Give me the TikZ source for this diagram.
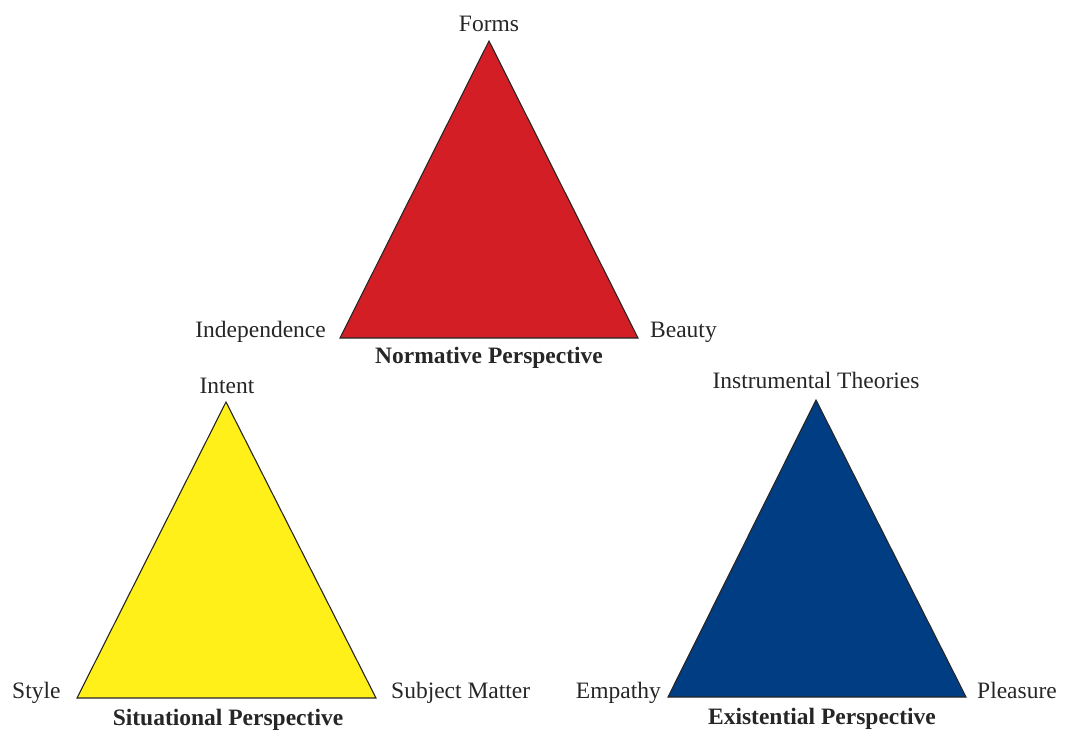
\documentclass[tikz,border=0pt]{standalone}
\usepackage{fontspec}
\setmainfont{Liberation Serif}
\definecolor{trired}{RGB}{212,30,38}
\definecolor{triyellow}{RGB}{255,240,26}
\definecolor{triblue}{RGB}{0,61,130}
\begin{document}
\begin{tikzpicture}[x=1pt,y=-1pt,
  lbl/.style={inner sep=0pt,font=\fontsize{23.5}{26}\selectfont,text=black!85},
  ttl/.style={inner sep=0pt,font=\fontsize{23.5}{26}\selectfont\bfseries,text=black!85},
  tri/.style={draw=black!85,line width=1.1pt,line join=miter}]
\useasboundingbox (0,0) rectangle (1066,736);
% vertices
\coordinate (rA) at (489,41);
\coordinate (rL) at (340,338);
\coordinate (rR) at (638,338);
\coordinate (yA) at (226,402);
\coordinate (yL) at (77,698);
\coordinate (yR) at (376,698);
\coordinate (bA) at (816,400);
\coordinate (bL) at (668,697);
\coordinate (bR) at (966,697);
% triangles
\draw[tri,fill=trired] (rA) -- (rL) -- (rR) -- cycle;
\draw[tri,fill=triyellow] (yA) -- (yL) -- (yR) -- cycle;
\draw[tri,fill=triblue] (bA) -- (bL) -- (bR) -- cycle;
% labels
\node[lbl,anchor=base] (forms) at (489,31) {Forms};
\node[lbl,anchor=base east] (indep) at (326,337) {Independence};
\node[lbl,anchor=base west] (beauty) at (650,337) {Beauty};
\node[ttl,anchor=base] (norm) at (489,363) {Normative Perspective};
\node[lbl,anchor=base] (intent) at (227,393) {Intent};
\node[lbl,anchor=base west] (style) at (12,698) {Style};
\node[lbl,anchor=base west] (subj) at (391,698) {Subject Matter};
\node[ttl,anchor=base] (sit) at (228,725) {Situational Perspective};
\node[lbl,anchor=base] (instr) at (816,388) {Instrumental Theories};
\node[lbl,anchor=base east] (emp) at (661,698) {Empathy};
\node[lbl,anchor=base west] (pleas) at (977,698) {Pleasure};
\node[ttl,anchor=base] (exist) at (822,724) {Existential Perspective};
\end{tikzpicture}
\end{document}
